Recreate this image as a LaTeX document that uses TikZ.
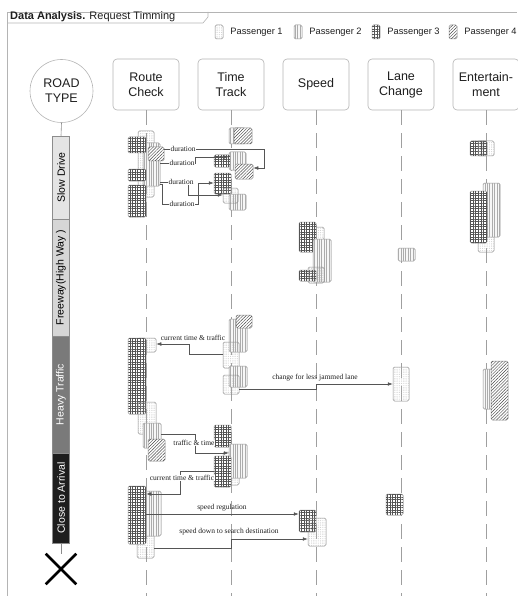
\documentclass[tikz,border=0pt]{standalone}
\usepackage{fontspec}
\setmainfont{Liberation Sans}
\newfontfamily\lblfont{Liberation Serif}
\usetikzlibrary{arrows.meta,positioning,patterns.meta,shapes.misc}
\definecolor{ink}{HTML}{1E1E1E}
\definecolor{rim}{HTML}{8C8C8C}
\definecolor{pale}{HTML}{B4B4B4}
\definecolor{wire}{HTML}{555555}
\definecolor{roadA}{HTML}{E4E4E4}
\definecolor{roadB}{HTML}{D6D6D6}
\definecolor{roadC}{HTML}{7A7A7A}
\tikzset{
  head/.style={draw=pale,line width=.6pt,rounded corners=4pt,fill=white,minimum width=66pt,minimum height=51pt,align=center,font=\fontsize{12.5}{15}\selectfont,text=ink},
  act/.style={draw=rim,line width=.5pt,rounded corners=1.5pt,inner sep=0pt},
  sz/.style 2 args={minimum width=#1pt,minimum height=#2pt},
  pa/.style={act,postaction={pattern={Dots[distance=1.8pt,radius=.35pt]},pattern color=gray!60}},
  pb/.style={act,fill=gray!6,postaction={pattern={Lines[angle=90,distance=2.4pt,line width=.4pt]},pattern color=gray!65}},
  pc/.style={act,fill=white,postaction={pattern={Hatch[angle=0,distance=2.6pt,line width=.7pt]},pattern color=gray!65!black}},
  pd/.style={act,fill=white,postaction={pattern={Lines[angle=45,distance=2.2pt,line width=.45pt]},pattern color=gray!55!black}},
  seg/.style={draw=rim,line width=.5pt,rotate=90,minimum height=17pt,inner sep=0pt,font=\fontsize{10.5}{12}\selectfont},
  life/.style={draw=gray!75,line width=.6pt,dash pattern=on 15pt off 8pt},
  msg/.style={draw=wire,line width=.5pt,-{Latex[length=5pt,width=3.6pt]}},
  lbl/.style={font=\lblfont\fontsize{7.5}{9}\selectfont,fill=white,inner sep=.8pt,text=ink},
  key/.style={font=\fontsize{9.3}{11}\selectfont,text=ink,inner sep=2pt},
  frame/.style={draw=pale,line width=.6pt},
}
\begin{document}
\begin{tikzpicture}[x=1pt,y=-1pt]
  \useasboundingbox (0,0) rectangle (517,596);
  \draw[frame] (7,596) -- (7,12) -- (517,12);
  \draw[frame] (7,23) -- (203,23) -- (208,17) -- (208,12);
  \node[anchor=west,font=\fontsize{11}{13}\selectfont,text=ink,inner sep=0pt] (title) at (10,17) {\textbf{Data Analysis.} Request Timming};
  \foreach \s/\x/\t in {pa/219/1,pb/298/2,pc/376/3,pd/453/4}{
    \node[\s,sz={8}{14}] (k\t) at (\x,32) {};
    \node[key,right=5pt of k\t] (kt\t) {Passenger \t};
  }

  \node[draw=pale,line width=.6pt,circle,minimum size=63pt,align=center,font=\fontsize{12.5}{15}\selectfont,text=ink] (road) at (61.5,91) {ROAD\\TYPE};
  \foreach \n/\x/\t in {rc/146/{Route\\Check},tt/231/{Time\\Track},sp/316/Speed,lc/401/{Lane\\Change},en/486/{Entertain-\\ment}}{
    \node[head] (h\n) at (\x,84.5) {\t};
    \draw[life] (h\n.south) -- ++(0,486);
  }

  \node[seg,fill=roadA,minimum width=83pt] (sd) at (61,177.5) {Slow Drive};
  \node[seg,fill=roadB,minimum width=117pt] (fw) at (61,277.5) {Freeway(High Way )};
  \node[seg,fill=roadC,text=white,minimum width=117pt] (ht) at (61,394.5) {Heavy Traffic};
  \node[seg,fill=ink,text=white,minimum width=90pt] (ca) at (61,498) {Close to Arrival};
  \node[cross out,draw=black,line width=2.6pt,minimum size=28pt] (endx) at (61,569) {};
  \draw[rim,line width=.6pt] (road.south) -- (sd.east);
  \draw[rim,line width=.6pt] (ca.west) -- (endx.north);

  \node[pa,sz={16}{66}] (rcA) at (146,164) {};
  \node[pb,sz={17}{43}] (rcB) at (151.5,164.5) {};
  \node[pc,sz={18}{16}] (rcC) at (137,145) {};
  \node[pd,sz={16}{14}] (rcD) at (156,154) {};
  \node[pc,sz={18}{12}] (rcE) at (137,175) {};
  \node[pc,sz={18}{32}] (rcF) at (137,201) {};
  \node[pb,sz={16}{16}] (ttA) at (237,136) {};
  \node[pd,sz={18}{16}] (ttA2) at (243,136) {};
  \node[pb,sz={17}{18}] (ttB) at (237.5,161) {};
  \node[pc,sz={16}{12}] (ttB2) at (222,161) {};
  \node[pd,sz={18}{15}] (ttC) at (244,171.5) {};
  \node[pb,sz={17}{16}] (ttF) at (237.5,202) {};
  \node[pc,sz={17}{21}] (ttD) at (222.5,183.5) {};
  \node[pa,sz={15}{15}] (ttE) at (230.5,195.5) {};
  \node[pa,sz={9}{13}] (spA) at (319.5,233.5) {};
  \node[pc,sz={17}{30}] (spB) at (307.5,237) {};
  \node[pb,sz={18}{43}] (spC) at (322,260.5) {};
  \node[pc,sz={17}{11}] (spD) at (307.5,275.5) {};
  \node[pa,sz={16}{16}] (spE) at (316,275) {};
  \node[pb,sz={17}{13}] (lcA) at (406.5,254.5) {};
  \node[pc,sz={17}{15}] (enA) at (478.5,148.5) {};
  \node[pa,sz={16}{15}] (enB) at (486,148.5) {};
  \node[pa,sz={16}{17}] (enE) at (486,243.5) {};
  \node[pb,sz={17}{54}] (enC) at (491.5,210) {};
  \node[pc,sz={17}{52}] (enD) at (478.5,217) {};

  \node[pa,sz={18}{14}] (rcH) at (147,345) {};
  \node[pc,sz={18}{76}] (rcG) at (137,376) {};
  \node[pa,sz={18}{32}] (rcI) at (147,418) {};
  \node[pb,sz={18}{25}] (rcJ) at (152,435.5) {};
  \node[pd,sz={17}{22}] (rcK) at (156.5,450) {};
  \node[pb,sz={18}{33}] (ttH) at (238,335.5) {};
  \node[pd,sz={16}{13}] (ttG) at (244,321.5) {};
  \node[pa,sz={16}{26}] (ttI) at (231,355) {};
  \node[pb,sz={18}{21}] (ttJ) at (238,376.5) {};
  \node[pa,sz={16}{19}] (ttK) at (231,384.5) {};
  \node[pa,sz={16}{34}] (lcB) at (401,384) {};
  \node[pb,sz={9}{40}] (enF) at (487.5,389) {};
  \node[pd,sz={17}{59}] (enG) at (499.5,390.5) {};
  \node[pc,sz={17}{22}] (ttL) at (222.5,436) {};
  \node[pa,sz={16}{33}] (ttN) at (231,468.5) {};
  \node[pb,sz={18}{34}] (ttM) at (238,461) {};
  \node[pc,sz={17}{31}] (ttO) at (222.5,471.5) {};

  \node[pa,sz={17}{25}] (rcO) at (145.5,545.5) {};
  \node[pb,sz={17}{45}] (rcN) at (152.5,513.5) {};
  \node[pc,sz={18}{58}] (rcL) at (137,515) {};
  \node[pc,sz={17}{22}] (spF) at (307.5,521) {};
  \node[pa,sz={18}{28}] (spG) at (317,532) {};
  \node[pc,sz={17}{21}] (lcC) at (394.5,504.5) {};

  \draw[msg] (rcD.east |- 0,149) -| (264,168) -- (ttC.east |- 0,168);
  \draw[msg] (rcB.east |- 0,163) -| (195,157) -- (ttB.west |- 0,157);
  \draw[msg] (rcB.east |- 0,182) -| (188,195) -- (ttE.west |- 0,195);
  \draw[msg] (rcB.east |- 0,184) -| (162,204) -- (198,204) |- (ttD.west |- 0,183);
  \draw[msg] (ttI.west |- 0,354) -| (189,344) -- (rcH.east |- 0,344);
  \draw[msg] (ttK.east |- 0,389) -| (316,384) -- (lcB.west |- 0,384);
  \draw[msg] (rcJ.east |- 0,434) -| (195,453) -- (ttM.west |- 0,453);
  \draw[msg] (ttO.west |- 0,471) -| (180,494) -- (rcL.east |- 0,494);
  \draw[msg] (rcL.east |- 0,514) -- (spF.west |- 0,514);
  \draw[msg] (rcO.east |- 0,548) -| (231,539) -- (spG.west |- 0,539);

  \node[lbl] (d1) at (183,149) {duration};
  \node[lbl] (d2) at (182,163) {duration};
  \node[lbl] (d3) at (181,182) {duration};
  \node[lbl] (d4) at (182,204) {duration};
  \node[lbl,fill=none] (ct1) at (193,338) {current time \& traffic};
  \node[lbl,fill=none] (cl) at (315,378) {change for less jammed lane};
  \node[lbl] (tt1) at (194,443) {traffic \& time};
  \node[lbl] (ct2) at (182,478) {current time \& traffic};
  \node[lbl,fill=none] (sr) at (222,508) {speed regulation};
  \node[lbl,fill=none] (sd2) at (229,532) {speed down to search destination};
\end{tikzpicture}
\end{document}
